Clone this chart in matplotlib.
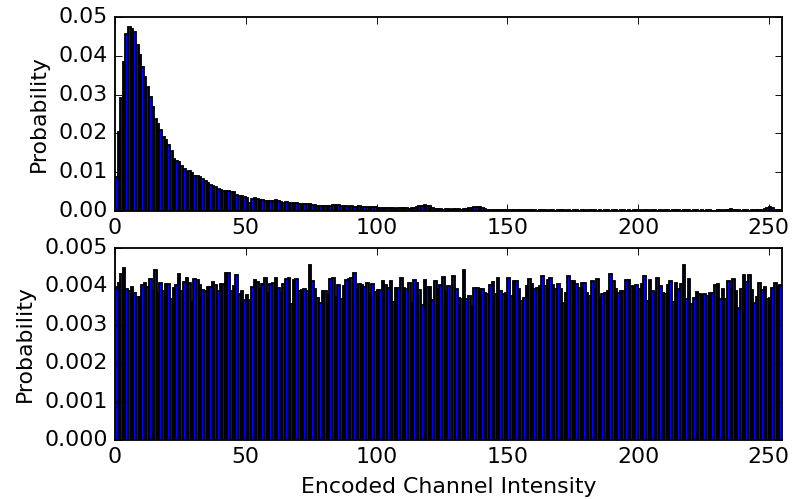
import matplotlib
matplotlib.use("Agg")
import matplotlib.pyplot as plt
import numpy as np

plt.style.use('classic')

# intensity bins 0..254
intensity = np.arange(255)

# original channel histogram (top)
orig_head = [
    0.0087, 0.0203, 0.0290, 0.0384, 0.0455, 0.0475, 0.0469, 0.0462, 0.0428, 0.0402,
    0.0372, 0.0346, 0.0320, 0.0294, 0.0268, 0.0238, 0.0225, 0.0208, 0.0190, 0.0182,
    0.0169, 0.0156, 0.0134, 0.0130, 0.0126, 0.0115, 0.0109, 0.0100, 0.0104, 0.0098,
    0.0091, 0.0090, 0.0089, 0.0083, 0.0078, 0.0072, 0.0067, 0.0064, 0.0061, 0.0057,
    0.0055, 0.0053, 0.0051, 0.0051, 0.0050, 0.0048, 0.0042, 0.0040, 0.0038, 0.0037,
    0.0034, 0.0020, 0.0031, 0.0033, 0.0031, 0.0028, 0.0028, 0.0027, 0.0027, 0.0026,
    0.0026, 0.0028, 0.0026, 0.0024, 0.0022, 0.0023, 0.0022, 0.0020, 0.0021,
]
orig_tail = [
    0.0020, 0.0019, 0.0019, 0.0018, 0.0018, 0.0017, 0.0016,
    0.0015, 0.0014, 0.0014, 0.0013, 0.0014, 0.0013, 0.0013, 0.0015, 0.0016,
    0.0015, 0.0013, 0.0012, 0.0012, 0.0011, 0.0012, 0.0011, 0.0011, 0.0012, 0.0011,
    0.0010, 0.0011, 0.0010, 0.0011, 0.0010,
    0.0008, 0.0007, 0.0008, 0.0007, 0.0007, 0.0008, 0.0007, 0.0006, 0.0007, 0.0008,
    0.0007, 0.0007, 0.0006, 0.0008, 0.0009, 0.0010,
    0.0012, 0.0014, 0.0015, 0.0014, 0.0012, 0.0009,
    0.0006, 0.0005, 0.0005, 0.0004, 0.0005, 0.0005, 0.0004, 0.0005, 0.0006, 0.0005,
    0.0004, 0.0005, 0.0006, 0.0007, 0.0008,
    0.0010, 0.0011, 0.0010, 0.0008, 0.0006,
    0.0004, 0.0004, 0.0003, 0.0004, 0.0003, 0.0003, 0.0004,
    0.0003, 0.0003, 0.0002, 0.0003, 0.0003, 0.0002, 0.0003, 0.0002, 0.0003, 0.0002,
    0.0002, 0.0002, 0.0001, 0.0002, 0.0002, 0.0002, 0.0001, 0.0002, 0.0002, 0.0001,
    0.0002, 0.0002, 0.0002, 0.0001, 0.0002, 0.0001, 0.0002, 0.0002, 0.0001, 0.0002,
    0.0002, 0.0001, 0.0002, 0.0002, 0.0002, 0.0001, 0.0002, 0.0001, 0.0002, 0.0002,
    0.0001, 0.0002, 0.0002, 0.0001, 0.0002, 0.0002, 0.0001, 0.0002, 0.0001, 0.0002,
    0.0002, 0.0002, 0.0001, 0.0002, 0.0002, 0.0001, 0.0002, 0.0002, 0.0001, 0.0002,
    0.0001, 0.0002, 0.0002, 0.0001, 0.0002, 0.0002, 0.0002, 0.0001, 0.0002, 0.0002,
    0.0002, 0.0001, 0.0002, 0.0002, 0.0001, 0.0002, 0.0001, 0.0002, 0.0002, 0.0001,
    0.0001, 0.0002, 0.0002, 0.0001, 0.0002,
    0.0004, 0.0005, 0.0004,
    0.0002, 0.0002, 0.0001, 0.0002, 0.0002, 0.0001, 0.0002, 0.0002, 0.0002, 0.0002, 0.0003,
    0.0006, 0.0009, 0.0010, 0.0007,
    0.0004, 0.0003, 0.0002,
]
orig_prob = orig_head + orig_tail

# encoded channel histogram (bottom)
enc_prob = [
    0.00397, 0.00410, 0.00432, 0.00448, 0.00393, 0.00388, 0.00399, 0.00382, 0.00373, 0.00373,
    0.00404, 0.00410, 0.00399, 0.00420, 0.00387, 0.00442, 0.00384, 0.00409, 0.00387, 0.00407,
    0.00407, 0.00368, 0.00395, 0.00403, 0.00432, 0.00388, 0.00412, 0.00421, 0.00410, 0.00360,
    0.00420, 0.00416, 0.00403, 0.00390, 0.00388, 0.00399, 0.00399, 0.00412, 0.00403, 0.00388,
    0.00407, 0.00407, 0.00436, 0.00436, 0.00388, 0.00401, 0.00430, 0.00380, 0.00387, 0.00364,
    0.00377, 0.00364, 0.00399, 0.00417, 0.00412, 0.00394, 0.00407, 0.00421, 0.00384, 0.00407,
    0.00410, 0.00421, 0.00395,
    0.00384, 0.00406, 0.00419, 0.00421, 0.00353, 0.00416, 0.00419, 0.00388, 0.00391, 0.00394,
    0.00387, 0.00455, 0.00413, 0.00393, 0.00369, 0.00358, 0.00387, 0.00387, 0.00377, 0.00420,
    0.00421, 0.00373, 0.00404, 0.00366, 0.00401, 0.00416, 0.00419, 0.00421, 0.00434, 0.00393,
    0.00407, 0.00403, 0.00399, 0.00410, 0.00384, 0.00407, 0.00386, 0.00390, 0.00390, 0.00413,
    0.00404, 0.00397, 0.00415, 0.00360, 0.00397, 0.00397, 0.00423, 0.00397, 0.00394, 0.00408,
    0.00358, 0.00416, 0.00408, 0.00391, 0.00351, 0.00417, 0.00399, 0.00399, 0.00364, 0.00415,
    0.00393, 0.00404, 0.00424, 0.00386, 0.00401,
    0.0,
    0.00426, 0.00393, 0.00371, 0.00368, 0.00442, 0.00368, 0.00375, 0.00349, 0.00397, 0.00397,
    0.00393, 0.00393, 0.00384, 0.00380, 0.00404, 0.00412, 0.00380, 0.00421, 0.00388, 0.00380,
    0.00384, 0.00421, 0.00375, 0.00414, 0.00414, 0.00393, 0.00362, 0.00371, 0.00401, 0.00419,
    0.00406, 0.00393, 0.00397, 0.00401, 0.00426, 0.00401, 0.00417, 0.00421, 0.00404, 0.00393,
    0.00407, 0.00393, 0.00358, 0.00384, 0.00428, 0.00414, 0.00413, 0.00406, 0.00397, 0.00408,
    0.00408, 0.00384, 0.00375, 0.00413, 0.00393, 0.00419, 0.00371, 0.00380, 0.00384, 0.00387,
    0.00432, 0.00414, 0.00393, 0.00384, 0.00387,
    0.00387, 0.00417, 0.00416, 0.00401, 0.00401, 0.00404, 0.00394, 0.00406, 0.00428, 0.00362,
    0.00416, 0.00388, 0.00384, 0.00421, 0.00401, 0.00382, 0.00380, 0.00403, 0.00413, 0.00360,
    0.00410, 0.00393, 0.00406, 0.00456, 0.00366, 0.00419, 0.00353, 0.00371, 0.00386, 0.00381,
    0.00377, 0.00380, 0.00375, 0.00384, 0.00382, 0.00403, 0.00407, 0.00368, 0.00394, 0.00366,
    0.00413, 0.00394, 0.00419, 0.00388, 0.00345, 0.00393, 0.00429, 0.00412, 0.00430, 0.00391,
    0.00358, 0.00373, 0.00410, 0.00390, 0.00399, 0.00366, 0.00371, 0.00397, 0.00410, 0.00397,
    0.00405,
]

# the reference looks like a 6in wide figure rendered at ~132 dpi
dpi = 132.17
fig = plt.figure(figsize=(793 / dpi, 499 / dpi), dpi=dpi, facecolor='white')
ax1 = fig.add_axes([0.145, 0.577, 0.841, 0.389])
ax2 = fig.add_axes([0.145, 0.118, 0.841, 0.385])

ax1.bar(intensity, orig_prob, width=1.0, align='edge', color='b', edgecolor='k', linewidth=1.0)
ax1.set_xlim(0, 255)
ax1.set_ylim(0, 0.05)
ax1.set_ylabel('Probability')

ax2.bar(intensity, enc_prob, width=1.0, align='edge', color='b', edgecolor='k', linewidth=1.0)
ax2.set_xlim(0, 255)
ax2.set_ylim(0, 0.005)
ax2.set_ylabel('Probability')
ax2.set_xlabel('Encoded Channel Intensity')

plt.savefig('out.png', dpi=dpi, facecolor='white')
plt.close()
